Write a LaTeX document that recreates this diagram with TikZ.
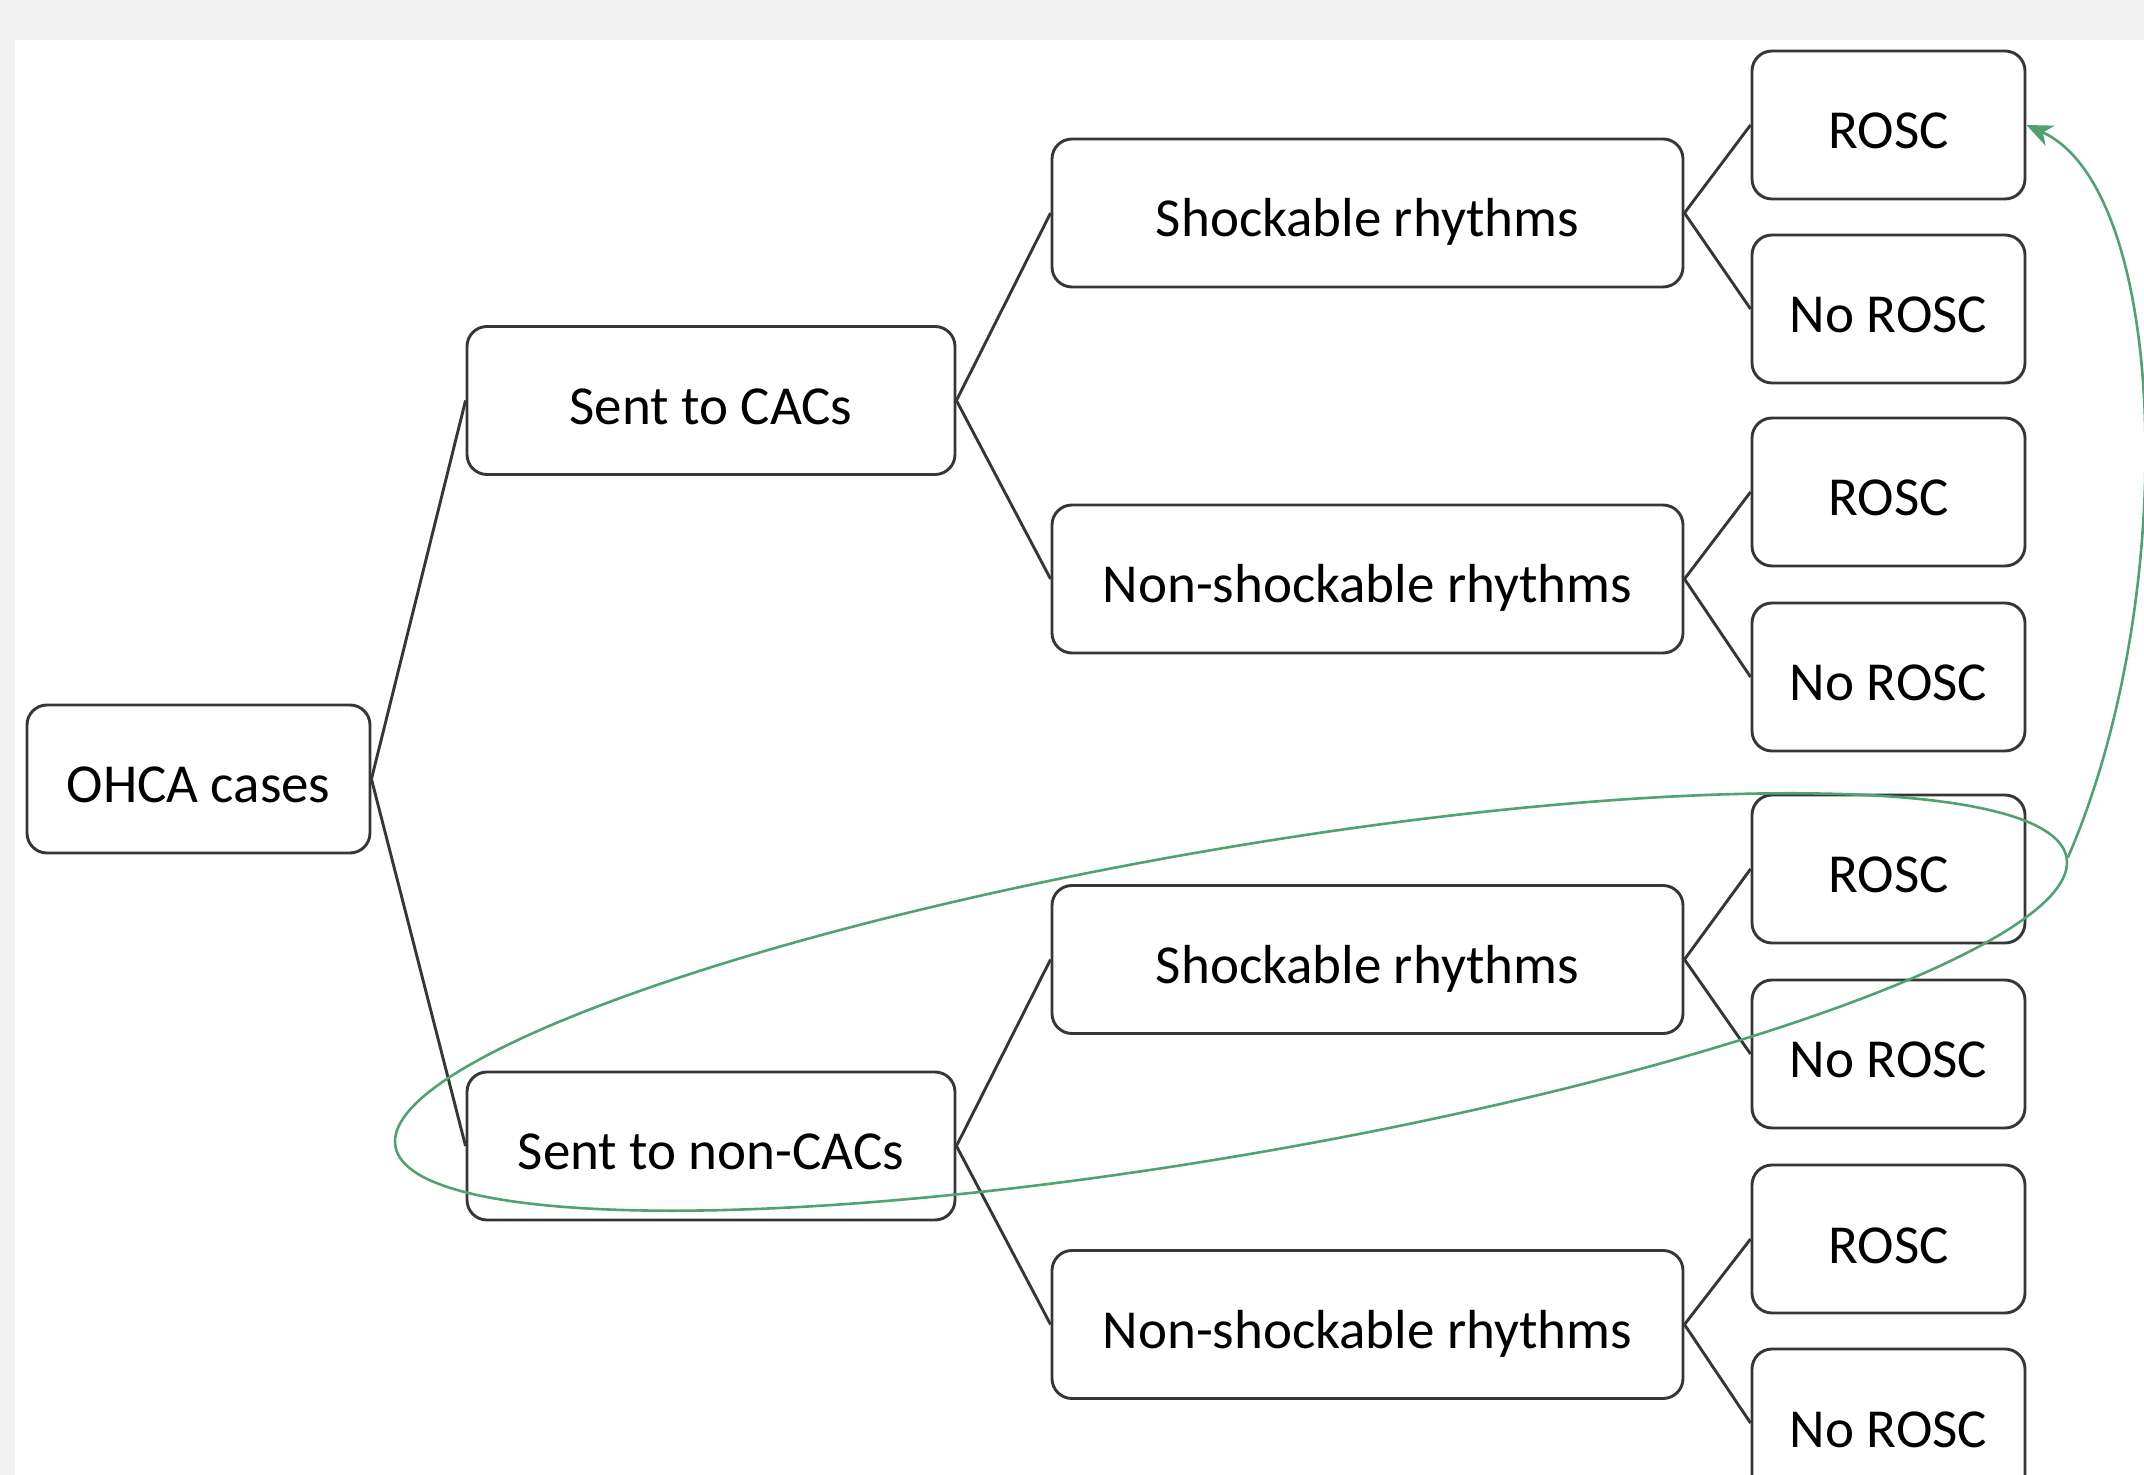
\documentclass[tikz,border=0pt]{standalone}
\usepackage{fontspec}
\setmainfont{Carlito}
\usetikzlibrary{shapes.geometric,arrows.meta}
\definecolor{bgg}{HTML}{F2F2F2}
\definecolor{boxline}{HTML}{363636}
\definecolor{grn}{RGB}{80,162,112}
\begin{document}
\begin{tikzpicture}[x=0.5pt,y=-0.5pt,
  box/.style={draw=boxline, line width=1.45pt, rounded corners=10pt, fill=white,
    minimum height=74pt, inner sep=0pt, text height=24pt, text depth=0pt,
    font=\fontsize{27.5}{33}\selectfont, text=black},
  rootbox/.style={box, minimum width=171.5pt},
  centrebox/.style={box, minimum width=244pt},
  rhythmbox/.style={box, minimum width=315.5pt},
  leafbox/.style={box, minimum width=136.5pt},
  link/.style={draw=boxline, line width=1.45pt},
  ring/.style={draw=grn, line width=1.3pt, ellipse, inner sep=0pt, fill=none}]
\useasboundingbox (0,0) rectangle (2144,1475);
\fill[bgg] (0,0) rectangle (2144,1475);
\fill[white] (15,40) rectangle (2144,1475);

\node[rootbox] (ohca) at (198.5,779) {OHCA cases};
\node[centrebox] (cac) at (711,400.5) {Sent to CACs};
\node[centrebox] (ncac) at (711,1146) {Sent to non-CACs};

\node[rhythmbox] (s1) at (1367.5,213) {Shockable rhythms};
\node[rhythmbox] (n1) at (1367.5,579) {Non-shockable rhythms};
\node[rhythmbox] (s2) at (1367.5,959.5) {Shockable rhythms};
\node[rhythmbox] (n2) at (1367.5,1324.5) {Non-shockable rhythms};

\node[leafbox] (l1) at (1888.5,125) {ROSC};
\node[leafbox] (l2) at (1888.5,309) {No ROSC};
\node[leafbox] (l3) at (1888.5,492) {ROSC};
\node[leafbox] (l4) at (1888.5,677) {No ROSC};
\node[leafbox] (l5) at (1888.5,869) {ROSC};
\node[leafbox] (l6) at (1888.5,1054) {No ROSC};
\node[leafbox] (l7) at (1888.5,1239) {ROSC};
\node[leafbox] (l8) at (1888.5,1423) {No ROSC};

\draw[link] (ohca.east) -- (cac.west);
\draw[link] (ohca.east) -- (ncac.west);
\draw[link] (cac.east) -- (s1.west);
\draw[link] (cac.east) -- (n1.west);
\draw[link] (ncac.east) -- (s2.west);
\draw[link] (ncac.east) -- (n2.west);
\draw[link] (s1.east) -- (l1.west);
\draw[link] (s1.east) -- (l2.west);
\draw[link] (n1.east) -- (l3.west);
\draw[link] (n1.east) -- (l4.west);
\draw[link] (s2.east) -- (l5.west);
\draw[link] (s2.east) -- (l6.west);
\draw[link] (n2.east) -- (l7.west);
\draw[link] (n2.east) -- (l8.west);

\node[ring, minimum width=848pt, minimum height=153pt, rotate=9.8] (ell) at (1231,1002) {};
\draw[grn, line width=1.3pt, -{Stealth[length=13pt,width=11pt,inset=4pt]}]
  (ell.east) .. controls (2180,600) and (2170,190) .. (l1.east);
\end{tikzpicture}
\end{document}
